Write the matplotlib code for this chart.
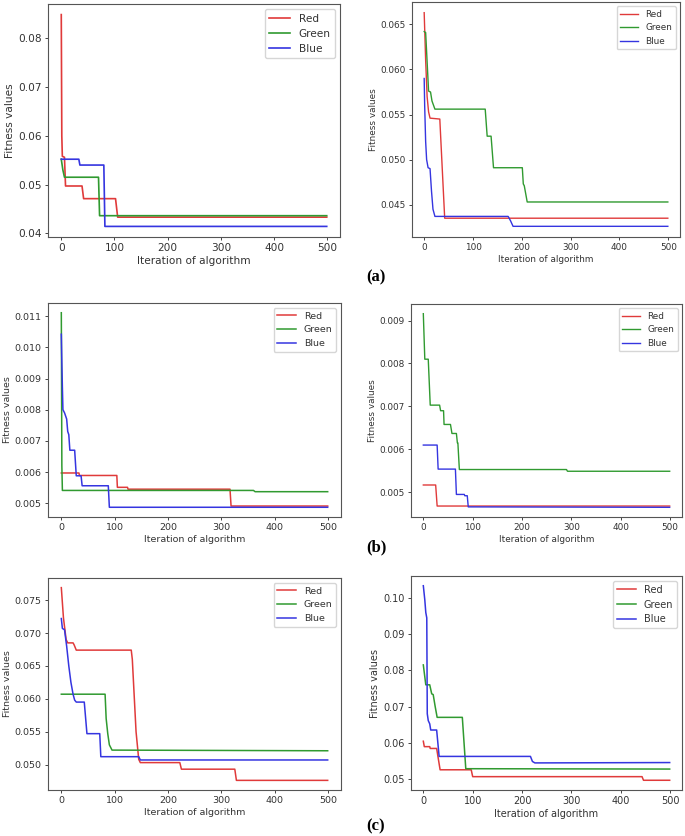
import matplotlib
matplotlib.use('Agg')
import matplotlib.pyplot as plt
from matplotlib.ticker import MultipleLocator

# (a) left
a1_red_x = [0, 1, 2, 6, 8, 39, 42, 102, 106, 499]
a1_red_y = [0.0849, 0.0600, 0.0558, 0.0556, 0.0497, 0.0497, 0.0471, 0.0471, 0.0433, 0.0433]
a1_green_x = [0, 3, 6, 70, 72, 499]
a1_green_y = [0.0552, 0.0530, 0.0515, 0.0515, 0.0436, 0.0436]
a1_blue_x = [0, 33, 35, 80, 82, 499]
a1_blue_y = [0.0552, 0.0552, 0.0540, 0.0540, 0.0414, 0.0414]

# (a) right
a2_red_x = [0, 3, 6, 9, 12, 32, 42, 499]
a2_red_y = [0.0663, 0.0610, 0.0570, 0.0553, 0.0546, 0.0545, 0.0435, 0.0435]
a2_green_x = [0, 3, 9, 13, 16, 22, 125, 129, 137, 142, 201, 203, 205, 211, 499]
a2_green_y = [0.0642, 0.0641, 0.0576, 0.0575, 0.0565, 0.0556, 0.0556, 0.0526, 0.0526,
              0.0491, 0.0491, 0.0473, 0.0471, 0.0453, 0.0453]
a2_blue_x = [0, 1, 3, 5, 8, 12, 15, 18, 22, 172, 177, 182, 499]
a2_blue_y = [0.0590, 0.0560, 0.0520, 0.0500, 0.0491, 0.0490, 0.0465, 0.0445, 0.0437,
             0.0437, 0.0432, 0.0426, 0.0426]

# (b) left
b1_red_x = [0, 33, 34, 104, 105, 124, 125, 316, 318, 499]
b1_red_y = [0.00597, 0.00597, 0.00589, 0.00589, 0.00551, 0.00551, 0.00545, 0.00545, 0.00491, 0.00491]
b1_green_x = [0, 1, 2, 360, 363, 499]
b1_green_y = [0.01111, 0.0062, 0.00541, 0.00541, 0.00537, 0.00537]
b1_blue_x = [0, 1, 2, 3, 6, 8, 10, 12, 14, 16, 25, 28, 37, 39, 88, 90, 499]
b1_blue_y = [0.01042, 0.0095, 0.0087, 0.0080, 0.0079, 0.0078, 0.0077, 0.0073, 0.0072, 0.0067,
             0.0067, 0.00588, 0.00588, 0.00556, 0.00556, 0.00487, 0.00487]

# (b) right
b2_red_x = [0, 25, 28, 499]
b2_red_y = [0.00517, 0.00517, 0.00468, 0.00468]
b2_green_x = [0, 3, 10, 14, 33, 35, 41, 42, 55, 58, 67, 69, 70, 73, 290, 292, 499]
b2_green_y = [0.00916, 0.0081, 0.0081, 0.00703, 0.00703, 0.0069, 0.0069, 0.00658, 0.00658,
              0.00637, 0.00637, 0.00615, 0.00615, 0.00553, 0.00553, 0.00549, 0.00549]
b2_blue_x = [0, 28, 30, 65, 67, 83, 84, 89, 91, 499]
b2_blue_y = [0.0061, 0.0061, 0.00554, 0.00554, 0.00495, 0.00495, 0.00492, 0.00492, 0.00466, 0.00465]

# (c) left
c1_red_x = [0, 4, 9, 12, 22, 24, 28, 131, 133, 140, 145, 148, 222, 225, 325, 328, 499]
c1_red_y = [0.0769, 0.0723, 0.0690, 0.0685, 0.0685, 0.0682, 0.0674, 0.0674, 0.0660, 0.0550,
            0.0508, 0.0503, 0.0503, 0.0493, 0.0493, 0.0476, 0.0476]
c1_green_x = [0, 82, 84, 87, 90, 95, 499]
c1_green_y = [0.0607, 0.0607, 0.0570, 0.0547, 0.0530, 0.0522, 0.0521]
c1_blue_x = [0, 2, 6, 10, 14, 18, 22, 25, 28, 43, 48, 72, 74, 145, 148, 499]
c1_blue_y = [0.0722, 0.0707, 0.0705, 0.0680, 0.0650, 0.0625, 0.0607, 0.0598, 0.0595, 0.0595,
             0.0547, 0.0547, 0.0512, 0.0512, 0.0507, 0.0507]

# (c) right
c2_red_x = [0, 2, 13, 14, 27, 34, 97, 100, 443, 446, 499]
c2_red_y = [0.0604, 0.0589, 0.0589, 0.0584, 0.0584, 0.0525, 0.0525, 0.0506, 0.0506, 0.0496, 0.0496]
c2_green_x = [0, 5, 13, 17, 20, 24, 28, 79, 86, 499]
c2_green_y = [0.0815, 0.0760, 0.0760, 0.0735, 0.0733, 0.0700, 0.0670, 0.0670, 0.0528, 0.0527]
c2_blue_x = [0, 3, 5, 7, 8, 10, 13, 15, 27, 32, 217, 221, 226, 499]
c2_blue_y = [0.1034, 0.0995, 0.0960, 0.0945, 0.0680, 0.0661, 0.0652, 0.0635, 0.0635, 0.0562,
             0.0562, 0.0548, 0.0544, 0.0545]

W, H = 685, 836
RED, GREEN, BLUE = '#e03a3a', '#309a30', '#3535e0'

plt.rcParams['text.color'] = '#333333'
plt.rcParams['axes.labelcolor'] = '#333333'
plt.rcParams['xtick.color'] = '#444444'
plt.rcParams['ytick.color'] = '#444444'
plt.rcParams['xtick.labelcolor'] = '#333333'
plt.rcParams['ytick.labelcolor'] = '#333333'
plt.rcParams['axes.edgecolor'] = '#555555'

fig = plt.figure(figsize=(W / 100, H / 100), dpi=100)


def panel(box, series, ystep, fs, lw):
    x0, y0, x1, y1 = box
    ax = fig.add_axes([x0 / W, 1 - y1 / H, (x1 - x0) / W, (y1 - y0) / H])
    for (xs, ys), c, name in zip(series, [RED, GREEN, BLUE], ['Red', 'Green', 'Blue']):
        ax.plot(xs, ys, color=c, lw=lw, label=name)
    ax.yaxis.set_major_locator(MultipleLocator(ystep))
    ax.xaxis.set_major_locator(MultipleLocator(100))
    ax.tick_params(labelsize=fs, length=2.5, width=0.7, pad=2)
    ax.set_xlabel('Iteration of algorithm', fontsize=fs, labelpad=2)
    ax.set_ylabel('Fitness values', fontsize=fs, labelpad=2)
    ax.legend(loc='upper right', fontsize=fs, handlelength=2.0)
    for s in ax.spines.values():
        s.set_linewidth(0.8)
    return ax


panel((48, 4, 340, 237),
      [(a1_red_x, a1_red_y), (a1_green_x, a1_green_y), (a1_blue_x, a1_blue_y)], 0.01, 7.6, 1.2)
panel((412, 2, 680, 237),
      [(a2_red_x, a2_red_y), (a2_green_x, a2_green_y), (a2_blue_x, a2_blue_y)], 0.005, 6.4, 1.0)
panel((48, 303, 341, 517),
      [(b1_red_x, b1_red_y), (b1_green_x, b1_green_y), (b1_blue_x, b1_blue_y)], 0.001, 6.8, 1.1)
panel((411, 304, 682, 517),
      [(b2_red_x, b2_red_y), (b2_green_x, b2_green_y), (b2_blue_x, b2_blue_y)], 0.001, 6.4, 1.0)
panel((48, 578, 341, 790),
      [(c1_red_x, c1_red_y), (c1_green_x, c1_green_y), (c1_blue_x, c1_blue_y)], 0.005, 6.8, 1.1)
panel((411, 576, 682, 790),
      [(c2_red_x, c2_red_y), (c2_green_x, c2_green_y), (c2_blue_x, c2_blue_y)], 0.01, 7.0, 1.1)

for lab, yy in [('(a)', 277), ('(b)', 547), ('(c)', 826)]:
    fig.text(376 / W, 1 - yy / H, lab, family='Liberation Serif', weight='bold',
             fontsize=12, color='black', ha='center', va='center')

fig.savefig('out.png', dpi=100)
